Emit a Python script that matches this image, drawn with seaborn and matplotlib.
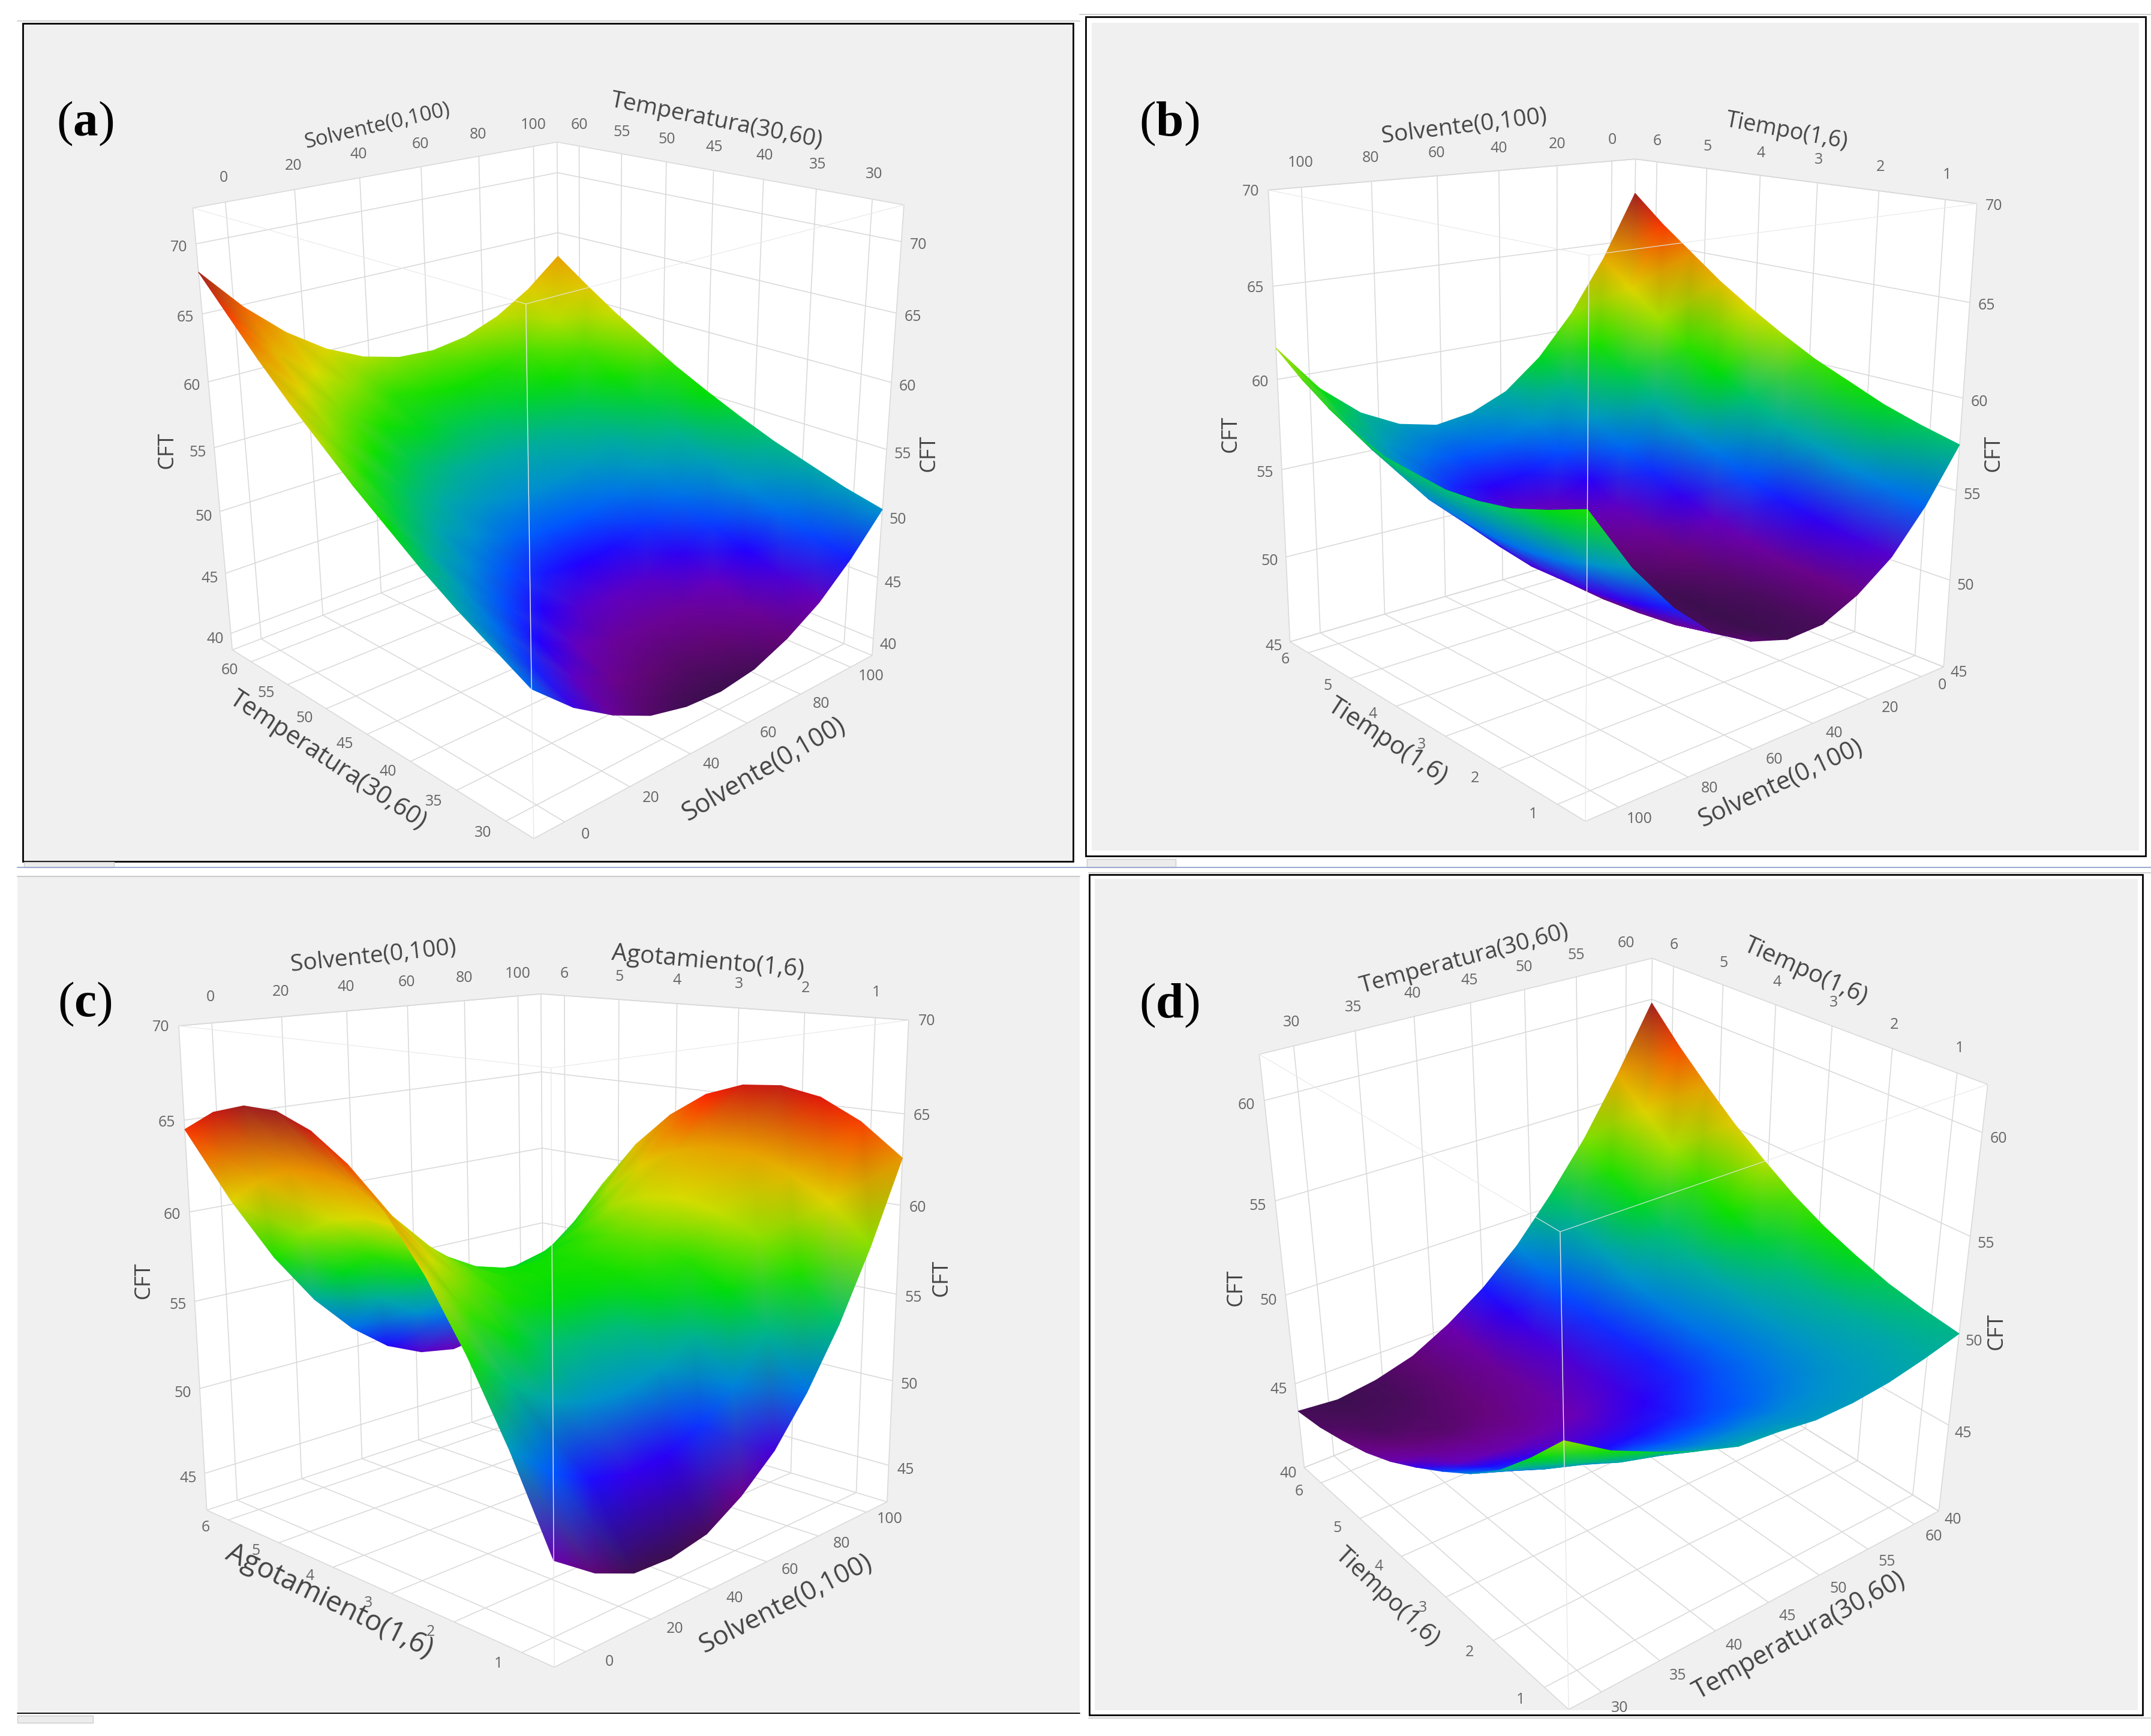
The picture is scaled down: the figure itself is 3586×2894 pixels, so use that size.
import numpy as np
import matplotlib
matplotlib.use("Agg")
import matplotlib.pyplot as plt
from matplotlib.patches import Rectangle
from mpl_toolkits.mplot3d.art3d import Poly3DCollection, Line3DCollection
import seaborn as sns

sns.set_theme(style="white")
plt.rcParams['font.family'] = ['Open Sans', 'DejaVu Sans']
plt.rcParams['mathtext.fontset'] = 'custom'
plt.rcParams['mathtext.bf'] = 'Liberation Serif:bold'

W, H = 3587, 2894
BG = '#f0f0f0'

# ---- values: CFT on an 11 x 11 grid (rows: second factor, cols: first factor)
cft_a = [
 [49.0,46.4,44.5,43.1,42.4,42.2,42.6,43.7,45.3,47.6,50.4],
 [50.4,47.7,45.7,44.3,43.5,43.2,43.6,44.6,46.2,48.3,51.1],
 [51.8,49.2,47.1,45.6,44.7,44.4,44.7,45.6,47.1,49.3,52.0],
 [53.4,50.7,48.5,47.0,46.0,45.7,45.9,46.8,48.2,50.3,52.9],
 [55.2,52.3,50.1,48.5,47.5,47.1,47.3,48.1,49.4,51.4,54.0],
 [57.0,54.1,51.8,50.2,49.1,48.6,48.7,49.4,50.8,52.7,55.2],
 [59.0,56.0,53.7,51.9,50.8,50.2,50.3,51.0,52.2,54.1,56.5],
 [61.0,58.0,55.6,53.8,52.6,52.0,52.0,52.6,53.8,55.6,58.0],
 [63.2,60.2,57.7,55.8,54.6,53.9,53.8,54.3,55.5,57.2,59.5],
 [65.6,62.4,59.9,58.0,56.6,55.9,55.7,56.2,57.3,58.9,61.2],
 [68.0,64.8,62.2,60.2,58.8,58.0,57.8,58.2,59.2,60.8,63.0]]
cft_b = [
 [57.5,54.7,52.5,51.1,50.2,50.1,50.7,51.8,53.7,56.2,59.4],
 [58.0,55.1,52.8,51.2,50.2,49.9,50.3,51.4,53.1,55.6,58.7],
 [58.6,55.5,53.1,51.4,50.3,49.9,50.2,51.2,52.8,55.1,58.1],
 [59.4,56.2,53.6,51.8,50.6,50.0,50.3,51.1,52.7,54.9,57.8],
 [60.2,56.8,54.2,52.3,51.0,50.4,50.5,51.2,52.7,54.9,57.7],
 [61.2,57.8,55.1,53.0,51.6,50.9,50.9,51.6,53.0,55.1,57.9],
 [62.3,58.8,55.9,53.8,52.3,51.6,51.5,52.2,53.4,55.4,58.1],
 [63.5,59.9,57.0,54.7,53.2,52.4,52.2,52.9,54.1,56.1,58.7],
 [64.9,61.2,58.2,55.9,54.3,53.5,53.2,53.8,55.0,56.8,59.5],
 [66.3,62.6,59.5,57.2,55.5,54.7,54.3,54.9,56.0,57.9,60.5],
 [67.9,64.1,61.0,58.6,56.9,56.0,55.7,56.2,57.3,59.1,61.7]]
cft_c = [
 [48.0,46.5,45.6,45.5,45.9,47.1,48.8,51.3,54.4,58.2,62.6],
 [52.5,50.7,49.6,49.1,49.3,50.2,51.7,53.9,56.7,60.2,64.3],
 [56.4,54.4,52.9,52.2,52.1,52.7,53.9,55.8,58.3,61.5,65.4],
 [59.7,57.3,55.6,54.6,54.2,54.5,55.5,57.1,59.3,62.3,65.8],
 [62.3,59.6,57.7,56.4,55.7,55.7,56.4,57.7,59.7,62.3,65.6],
 [64.3,61.3,59.1,57.5,56.6,56.3,56.7,57.7,59.4,61.8,64.8],
 [65.6,62.4,59.9,58.0,56.8,56.2,56.3,57.1,58.5,60.6,63.3],
 [66.3,62.8,60.0,57.8,56.3,55.5,55.3,55.8,56.9,58.7,61.2],
 [66.3,62.6,59.5,57.0,55.3,54.1,53.7,53.9,54.7,56.3,58.4],
 [65.7,61.7,58.3,55.6,53.5,52.1,51.4,51.3,51.9,53.1,55.0],
 [64.5,60.2,56.5,53.5,51.2,49.5,48.5,48.1,48.4,49.4,51.0]]
cft_d = [
 [53.4,52.0,51.0,50.1,49.4,49.2,48.9,48.9,49.1,49.5,50.0],
 [51.4,50.2,49.3,48.7,48.3,48.2,48.2,48.4,48.8,49.4,50.3],
 [49.6,48.7,48.0,47.6,47.3,47.3,47.5,48.0,48.7,49.6,50.7],
 [48.2,47.4,46.8,46.5,46.5,46.7,47.2,47.8,48.7,49.9,51.3],
 [47.1,46.4,46.0,45.7,45.8,46.2,46.8,47.7,48.9,50.3,52.0],
 [46.1,45.4,45.1,45.1,45.3,45.9,46.7,47.9,49.2,50.9,52.9],
 [45.2,44.7,44.5,44.5,45.0,45.7,46.8,48.0,49.7,51.7,54.0],
 [44.5,44.1,43.9,44.2,44.8,45.7,46.9,48.5,50.4,52.6,55.2],
 [44.0,43.6,43.7,44.1,44.7,45.9,47.2,49.1,51.2,53.7,56.6],
 [43.6,43.4,43.5,44.0,44.9,46.2,47.8,49.8,52.2,55.0,58.1],
 [43.4,43.2,43.5,44.1,45.2,46.6,48.4,50.7,53.3,56.4,59.8]]

solvente_ticks = [0, 20, 40, 60, 80, 100]
temperatura_ticks = [30, 35, 40, 45, 50, 55, 60]
tiempo_ticks = [1, 2, 3, 4, 5, 6]
cft_ticks_a = [40, 45, 50, 55, 60, 65, 70]
cft_ticks_b = [45, 50, 55, 60, 65, 70]
cft_ticks_c = [45, 50, 55, 60, 65, 70]
cft_ticks_d = [40, 45, 50, 55, 60]

SOLV = 'Solvente(0,100)'
TEMP = 'Temperatura(30,60)'
TIEM = 'Tiempo(1,6)'
AGOT = 'Agotamiento(1,6)'

rainbow = ['#3c0f4e', '#6a0480', '#6a00b8', '#2200ff', '#0058ff', '#0090d0', '#00a8a8', '#00c070',
           '#00e000', '#30e000', '#a0e000', '#dcdc00', '#e4c000', '#e8a000', '#f06800', '#ff1800', '#a02020']
cmap = sns.blend_palette(rainbow, n_colors=256, as_cmap=True)

# layout: the panel's cube corners as seen in the picture
# order: top left, top back, top right, top near, floor left, floor back, floor right, floor near
panels = [
 dict(letter='a', z=cft_a, xt=solvente_ticks, yt=temperatura_ticks, zt=cft_ticks_a, zbox=(38.6, 72.5),
      xback='hi', yback='hi', view=(0, 0, 1800/1568, 1450/1568),
      corners=[(280,372),(812,255),(1312,372),(760,550),(340,1170),(808,950),(1270,1175),(775,1515)],
      titles=[(SOLV,275,92,13,25),(TEMP,522,88,-11,28),(TEMP,239,554,-33.5,30),(SOLV,557,561,30,31),('CFT',122,328,90,26),('CFT',677,330,90,26)],
      tag=(62,90)),
 dict(letter='b', z=cft_b, xt=solvente_ticks, yt=tiempo_ticks, zt=cft_ticks_b, zbox=(45, 70),
      xback='lo', yback='hi', view=(1800, 0, 1787/1558, 1450/1568),
      corners=[(275,343),(808,287),(1305,368),(738,458),(305,1160),(800,975),(1255,1205),(737,1478)],
      titles=[(SOLV,1067,92,7,28),(TIEM,1302,96,-10.5,27),(TIEM,1011,540,-33,30),(SOLV,1298,571,25,30),('CFT',897,316,90,26),('CFT',1453,330,90,26)],
      tag=(852,90)),
 dict(letter='c', z=cft_c, xt=solvente_ticks, yt=tiempo_ticks, zt=cft_ticks_c, zbox=(42.8, 70),
      xback='hi', yback='hi', view=(0, 1430, 1800/1568, 1464/1568),
      corners=[(260,300),(785,243),(1320,290),(800,375),(300,1165),(790,965),(1288,1150),(805,1445)],
      titles=[(SOLV,272,697,6,28),(AGOT,516,701,-5,29),(AGOT,240,1167,-26,34),(SOLV,573,1169,27,32),('CFT',105,933,90,26),('CFT',686,931,90,26)],
      tag=(62,732)),
 dict(letter='d', z=cft_d, xt=temperatura_ticks, yt=tiempo_ticks, zt=cft_ticks_d, zbox=(40, 62.2),
      xback='hi', yback='hi', view=(1800, 1430, 1787/1558, 1464/1568),
      corners=[(262,348),(832,180),(1320,405),(697,670),(327,1090),(825,845),(1250,1165),(710,1520)],
      titles=[(TEMP,1067,699,15,28),(TIEM,1316,708,-24,29),(TIEM,1011,1164,-43,29),(TEMP,1311,1192,29,31),('CFT',901,938,90,26),('CFT',1455,970,90,26)],
      tag=(852,733)),
]

fig = plt.figure(figsize=(W/100, H/100), dpi=100, facecolor='white')
bg = fig.add_axes([0, 0, 1, 1])
bg.set_xlim(0, W); bg.set_ylim(H, 0); bg.axis('off')
top = fig.add_axes([0, 0, 1, 1], zorder=50)
top.set_xlim(0, W); top.set_ylim(H, 0); top.axis('off'); top.patch.set_visible(False)


def box(x0, y0, x1, y1, fc='none', ec='none', lw=0, z=1):
    bg.add_patch(Rectangle((x0, y0), x1-x0, y1-y0, fc=fc, ec=ec, lw=lw, zorder=z))


# panel backgrounds and frames
box(38, 39, 1789, 1436, fc=BG, ec='black', lw=2)
box(1820, 38, 3566, 1418, fc=BG)
box(1810, 28, 3577, 1427, ec='black', lw=2, z=2)
box(29, 1461, 1800, 2854, fc=BG)
box(1825, 1465, 3564, 2851, fc=BG)
box(1816, 1458, 3572, 2859, ec='black', lw=2, z=2)
for x0, x1, y, c in [(29,1800,35,'#cfcfcf'),(1800,3587,24,'#cfcfcf'),(29,1800,1446,'#9aa8d0'),(1800,3587,1446,'#9aa8d0'),
                     (29,1800,1461,'#c8c8c8'),(29,1800,2856,'#000000'),(1815,3587,1455,'#cfcfcf'),(1815,3587,2864,'#cfcfcf')]:
    bg.plot([x0, x1], [y, y], color=c, lw=1.4, zorder=2)
for x0, y0, x1, y1 in [(40,1437,190,1446),(1812,1432,1960,1446),(29,2860,155,2872)]:
    box(x0, y0, x1, y1, fc='#ececec', ec='#cccccc', lw=1)


def fit_camera(pts3d, pts2d):
    A, b = [], []
    for (x, y, z), (u, v) in zip(pts3d, pts2d):
        A.append([x, y, z, 1, 0, 0, 0, 0, -u*x, -u*y, -u*z]); b.append(u)
        A.append([0, 0, 0, 0, x, y, z, 1, -v*x, -v*y, -v*z]); b.append(v)
    p = np.linalg.lstsq(np.array(A, float), np.array(b, float), rcond=None)[0]
    return np.append(p, 1).reshape(3, 4)


GRID = '#d9d9d9'
TICK = '#666666'
NEAR = '#e8e8e8'

for P in panels:
    ox, oy, sx, sy = P['view']
    xt, yt, zt = P['xt'], P['yt'], P['zt']
    xm = 0.09*(xt[-1]-xt[0]); ym = 0.09*(yt[-1]-yt[0])
    xlo, xhi = xt[0]-xm, xt[-1]+xm
    ylo, yhi = yt[0]-ym, yt[-1]+ym
    zlo, zhi = P['zbox']
    xb, xf = (xhi, xlo) if P['xback'] == 'hi' else (xlo, xhi)
    yb, yf = (yhi, ylo) if P['yback'] == 'hi' else (ylo, yhi)

    world = [(xf,yb,zhi),(xb,yb,zhi),(xb,yf,zhi),(xf,yf,zhi),(xf,yb,zlo),(xb,yb,zlo),(xb,yf,zlo),(xf,yf,zlo)]
    N = np.array([[1/(xhi-xlo),0,0,-xlo/(xhi-xlo)],[0,1/(yhi-ylo),0,-ylo/(yhi-ylo)],
                  [0,0,1/(zhi-zlo),-zlo/(zhi-zlo)],[0,0,0,1]])
    unit = [tuple((N @ np.array([*w, 1]))[:3]) for w in world]
    px = [(ox+sx*u, H-(oy+sy*v)) for u, v in P['corners']]
    C = fit_camera(unit, px) @ N
    M = np.array([C[0], C[1], [0, 0, 1/(zhi-zlo), 0], C[2]])

    def to_px(x, y, z):
        h = C @ np.array([x, y, z, 1.0])
        return h[0]/h[2], H-h[1]/h[2]

    ax = fig.add_axes([0, 0, 1, W/H], projection='3d', computed_zorder=False)
    ax.patch.set_visible(False)
    ax.set_axis_off()
    ax.set_xlim(xlo, xhi); ax.set_ylim(ylo, yhi); ax.set_zlim(zlo, zhi)
    ax.get_proj = (lambda m: (lambda: m))(M)
    ax.M = M
    ax.viewLim.intervalx = (0, W)
    ax.viewLim.intervaly = (0, W)

    # white walls and floor
    walls = [[(xf,yb,zlo),(xb,yb,zlo),(xb,yb,zhi),(xf,yb,zhi)],
             [(xb,yb,zlo),(xb,yf,zlo),(xb,yf,zhi),(xb,yb,zhi)],
             [(xf,yb,zlo),(xb,yb,zlo),(xb,yf,zlo),(xf,yf,zlo)]]
    ax.add_collection3d(Poly3DCollection(walls, facecolor='white', edgecolor='none', zorder=1))

    # grids on walls and floor
    segs = []
    for x in xt:
        segs += [[(x,yb,zlo),(x,yb,zhi)], [(x,yb,zlo),(x,yf,zlo)]]
    for y in yt:
        segs += [[(xb,y,zlo),(xb,y,zhi)], [(xf,y,zlo),(xb,y,zlo)]]
    for z in zt:
        segs += [[(xf,yb,z),(xb,yb,z)], [(xb,yb,z),(xb,yf,z)]]
    segs += [[(xf,yb,zhi),(xb,yb,zhi)], [(xb,yb,zhi),(xb,yf,zhi)], [(xb,yb,zlo),(xb,yb,zhi)],
             [(xf,yb,zlo),(xf,yb,zhi)], [(xb,yf,zlo),(xb,yf,zhi)], [(xf,yb,zlo),(xb,yb,zlo)],
             [(xb,yb,zlo),(xb,yf,zlo)], [(xf,yb,zlo),(xf,yf,zlo)], [(xb,yf,zlo),(xf,yf,zlo)]]
    ax.add_collection3d(Line3DCollection(segs, colors=GRID, linewidths=1.15, zorder=2))

    # response surface, back corner first so that near parts overlap far parts
    Zv = np.array(P['z'], float)
    xs = np.linspace(xlo, xhi, Zv.shape[1])
    ys = np.linspace(ylo, yhi, Zv.shape[0])
    X, Y = np.meshgrid(xs, ys)
    if P['yback'] == 'hi':
        X, Y, Zv = X[::-1], Y[::-1], Zv[::-1]
    if P['xback'] == 'hi':
        X, Y, Zv = X[:, ::-1], Y[:, ::-1], Zv[:, ::-1]
    h = C @ np.vstack([X.ravel(), Y.ravel(), Zv.ravel(), np.ones(X.size)])
    U = (h[0]/h[2]).reshape(X.shape); V = (h[1]/h[2]).reshape(X.shape)
    qm = ax.pcolormesh(U, V, Zv, shading='gouraud', cmap=cmap, vmin=Zv.min(), vmax=Zv.max(), zorder=3)
    qm.do_3d_projection = lambda: 0

    # the three near edges pass in front of the surface
    ax.add_collection3d(Line3DCollection([[(xf,yf,zlo),(xf,yf,zhi)]], colors=NEAR, linewidths=1.0, zorder=4))
    ax.add_collection3d(Line3DCollection([[(xf,yf,zhi),(xf,yb,zhi)], [(xf,yf,zhi),(xb,yf,zhi)]],
                                         colors=NEAR, linewidths=0.8, zorder=4))

    # tick labels
    dz = 0.05*(zhi-zlo); dx = xhi-xlo; dy = yhi-ylo
    sgx = 1 if xf == xlo else -1
    sgy = 1 if yf == ylo else -1

    def tick(x, y, z, s):
        u, v = to_px(x, y, z)
        top.text(u, v, str(s), color=TICK, fontsize=18, ha='center', va='center')

    for x in xt:
        tick(x, yb, zhi+dz, x)
        tick(x, yf-sgy*0.055*dy, zlo, x)
    for y in yt:
        tick(xb, y, zhi+dz, y)
        tick(xf-sgx*0.055*dx, y, zlo, y)
    for z in zt:
        tick(xf-sgx*0.04*dx, yb, z, z)
        tick(xb, yf-sgy*0.04*dy, z, z)

    # axis titles and panel tag
    k = W/1568
    for txt, tx, ty, rot, fs in P['titles']:
        top.text(tx*k, ty*k, txt, rotation=rot, rotation_mode='anchor', ha='center', va='center',
                 color='#444444', fontsize=fs)
    top.text(P['tag'][0]*k, P['tag'][1]*k, '($\\mathbf{%s}$)' % P['letter'], ha='center', va='center',
             fontsize=60, family='Liberation Serif', color='black')

fig.savefig('out.png', dpi=100, facecolor='white')
